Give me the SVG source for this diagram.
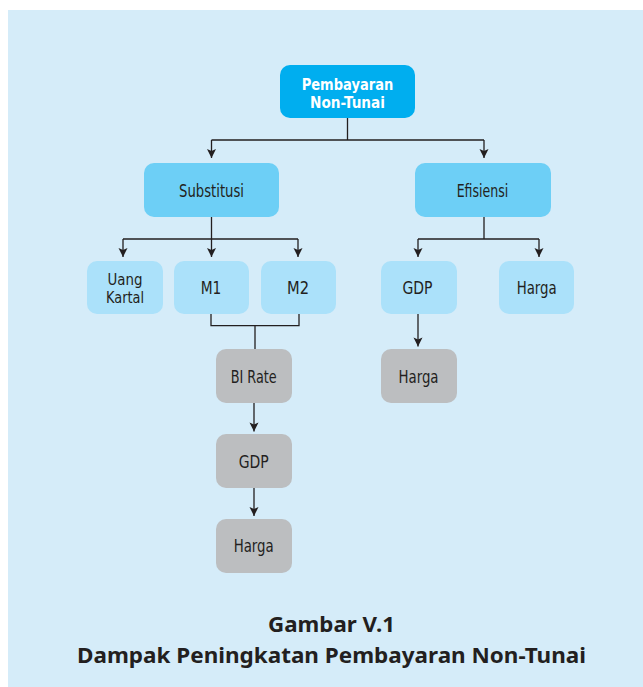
<svg xmlns="http://www.w3.org/2000/svg" width="643" height="687" viewBox="0 0 643 687">
<style>
.bg{fill:#d5ecf9}
.n0{fill:#00aeef}
.n1{fill:#6dcff6}
.n2{fill:#abe1fa}
.n3{fill:#bcbec0}
.t{font-family:"DejaVu Sans Condensed","DejaVu Sans",sans-serif;font-stretch:condensed;font-size:17px;fill:#231f20;text-anchor:middle}
.t2{font-size:15.5px}
.tb{font-family:"DejaVu Sans Condensed","DejaVu Sans",sans-serif;font-stretch:condensed;font-weight:bold;font-size:15.5px;fill:#ffffff;text-anchor:middle}
.cap{font-family:"Noto Sans","Open Sans",sans-serif;font-weight:bold;font-size:22px;fill:#231f20;text-anchor:middle}
.c{fill:none;stroke:#231f20;stroke-width:1.3}
.a{fill:none;stroke:#231f20;stroke-width:1.3;marker-end:url(#ah)}
</style>
<defs>
<marker id="ah" markerUnits="userSpaceOnUse" markerWidth="12" markerHeight="12" refX="0" refY="0" viewBox="-10 -6 12 12" orient="auto">
<path d="M0,0 L-9,-4.5 L-7,0 L-9,4.5 Z" fill="#231f20"/>
</marker>
</defs>
<rect class="bg" x="8" y="10" width="635" height="677"/>
<g id="connectors">
<path class="c" d="M347.5,118 V140 M211.5,140 H484"/>
<path class="a" d="M211.5,140 V158"/>
<path class="a" d="M484,140 V158"/>
<path class="c" d="M211.5,217 V239 M123,239 H298"/>
<path class="a" d="M123,239 V257"/>
<path class="a" d="M211.5,239 V257"/>
<path class="a" d="M298,239 V257"/>
<path class="c" d="M484,217 V239 M418,239 H539"/>
<path class="a" d="M418,239 V257"/>
<path class="a" d="M539,239 V257"/>
<path class="c" d="M211,314 V325.7 H299 V314 M255,325.7 V349"/>
<path class="a" d="M254,403 V431.5"/>
<path class="a" d="M254,488 V516"/>
<path class="a" d="M418,314 V346.5"/>
</g>
<g id="n-pembayaran"><rect class="n0" x="280" y="65" width="135" height="53" rx="10"/><text class="tb" x="347.5" y="89.5" textLength="91.6" lengthAdjust="spacingAndGlyphs">Pembayaran</text><text class="tb" x="347.5" y="107.5" textLength="75" lengthAdjust="spacingAndGlyphs">Non-Tunai</text></g>
<g id="n-substitusi"><rect class="n1" x="144" y="163" width="135" height="54" rx="10"/><text class="t" x="211.5" y="197" textLength="65" lengthAdjust="spacingAndGlyphs">Substitusi</text></g>
<g id="n-efisiensi"><rect class="n1" x="415" y="163" width="136" height="54" rx="10"/><text class="t" x="482.5" y="197" textLength="51.6" lengthAdjust="spacingAndGlyphs">Efisiensi</text></g>
<g id="n-uangkartal"><rect class="n2" x="87" y="261" width="76" height="53" rx="10"/><text class="t t2" x="125" y="285" textLength="35" lengthAdjust="spacingAndGlyphs">Uang</text><text class="t t2" x="125" y="302.7" textLength="38" lengthAdjust="spacingAndGlyphs">Kartal</text></g>
<g id="n-m1"><rect class="n2" x="174" y="261" width="75" height="53" rx="10"/><text class="t" x="211" y="293.5" textLength="20.6" lengthAdjust="spacingAndGlyphs">M1</text></g>
<g id="n-m2"><rect class="n2" x="261" y="261" width="75" height="53" rx="10"/><text class="t" x="298" y="293.5" textLength="22" lengthAdjust="spacingAndGlyphs">M2</text></g>
<g id="n-gdp-e"><rect class="n2" x="381" y="261" width="76" height="53" rx="10"/><text class="t" x="417.5" y="293.5" textLength="30" lengthAdjust="spacingAndGlyphs">GDP</text></g>
<g id="n-harga-e"><rect class="n2" x="499" y="261" width="75" height="53" rx="10"/><text class="t" x="536.7" y="293.5" textLength="40" lengthAdjust="spacingAndGlyphs">Harga</text></g>
<g id="n-birate"><rect class="n3" x="216" y="349" width="76" height="54" rx="10"/><text class="t" x="253.7" y="382.7" textLength="46" lengthAdjust="spacingAndGlyphs">BI Rate</text></g>
<g id="n-gdp-s"><rect class="n3" x="216" y="434" width="76" height="54" rx="10"/><text class="t" x="253.7" y="468.3" textLength="30" lengthAdjust="spacingAndGlyphs">GDP</text></g>
<g id="n-harga-s"><rect class="n3" x="216" y="519" width="76" height="54" rx="10"/><text class="t" x="253.7" y="551.7" textLength="40" lengthAdjust="spacingAndGlyphs">Harga</text></g>
<g id="n-harga-g"><rect class="n3" x="381" y="349" width="76" height="54" rx="10"/><text class="t" x="418.5" y="382.7" textLength="40" lengthAdjust="spacingAndGlyphs">Harga</text></g>
<g id="caption"><text class="cap" x="331.5" y="632.3" textLength="127" lengthAdjust="spacingAndGlyphs">Gambar V.1</text><text class="cap" x="331.5" y="663.3" textLength="509" lengthAdjust="spacingAndGlyphs">Dampak Peningkatan Pembayaran Non-Tunai</text></g>
</svg>
